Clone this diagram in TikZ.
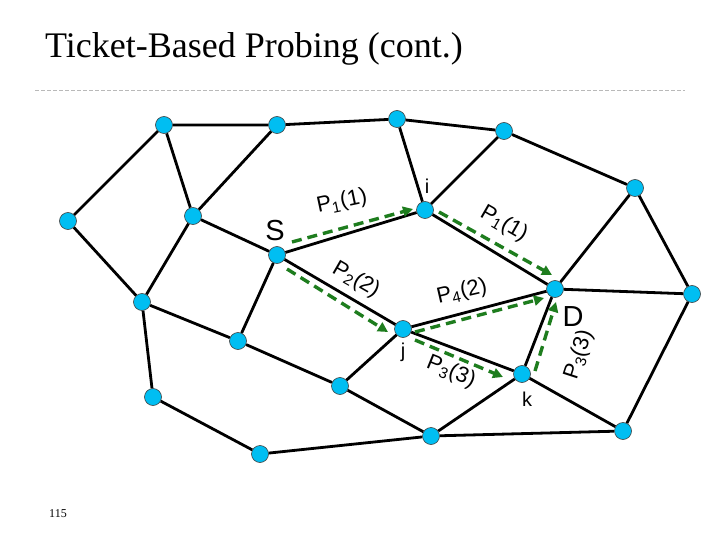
\documentclass[tikz,border=0pt]{standalone}
\usepackage{fontspec}
\setmainfont{Liberation Serif}
\newfontfamily\labelfont{Liberation Sans}
\usetikzlibrary{arrows.meta}
\definecolor{nodecyan}{RGB}{0,190,242}
\definecolor{probegreen}{RGB}{30,125,30}
\begin{document}
\begin{tikzpicture}[x=1pt,y=-1pt,
  vtx/.style={circle,fill=nodecyan,draw=black!75,line width=0.6pt,minimum size=17pt,inner sep=0pt},
  link/.style={draw=black,line width=2.8pt},
  probe/.style={draw=probegreen,line width=3.4pt,dash pattern=on 10pt off 6pt,-{Triangle[length=10pt,width=10pt]}},
  plabel/.style={font=\labelfont\fontsize{22}{26}\selectfont,inner sep=0pt},
  biglabel/.style={font=\labelfont\fontsize{29}{32}\selectfont,inner sep=0pt},
  smalllabel/.style={font=\labelfont\fontsize{20}{24}\selectfont,inner sep=0pt}]
\useasboundingbox (0,0) rectangle (720,540);
% title and separator
\node[anchor=base west,inner sep=0pt,font=\fontsize{36}{40}\selectfont] (title) at (45,58) {Ticket-Based Probing (cont.)};
\coordinate (sepL) at (35,90);
\coordinate (sepR) at (685,90);
\draw[gray!55,line width=0.8pt,dash pattern=on 4pt off 2pt] (sepL) -- (sepR);
\node[inner sep=0pt,font=\fontsize{12}{14}\selectfont] (pagenum) at (58,514) {115};
% vertices
\node[vtx] (n1) at (164,125) {};
\node[vtx] (n2) at (277,125) {};
\node[vtx] (n3) at (397,119) {};
\node[vtx] (n4) at (504,131) {};
\node[vtx] (n5) at (635,188) {};
\node[vtx] (n6) at (68,221) {};
\node[vtx] (n7) at (193,216) {};
\node[vtx] (S) at (277,255) {};
\node[vtx] (i) at (425,210) {};
\node[vtx] (F) at (142,302) {};
\node[vtx] (G) at (238,341) {};
\node[vtx] (j) at (403,329) {};
\node[vtx] (D) at (555,289) {};
\node[vtx] (n8) at (692,294) {};
\node[vtx] (H) at (153,397) {};
\node[vtx] (I) at (340,386) {};
\node[vtx] (k) at (522,374) {};
\node[vtx] (n9) at (260,454) {};
\node[vtx] (n10) at (431,436) {};
\node[vtx] (n11) at (623,431) {};
% links
\path[link]
  (n1) -- (n2) (n2) -- (n3) (n3) -- (n4) (n4) -- (n5) (n5) -- (n8)
  (n8) -- (n11) (n11) -- (n10) (n10) -- (n9) (n9) -- (H) (H) -- (F)
  (F) -- (n6) (n6) -- (n1) (n1) -- (n7) (n2) -- (n7) (n7) -- (S)
  (n7) -- (F) (F) -- (G) (G) -- (S) (G) -- (I) (I) -- (n10) (I) -- (j)
  (S) -- (i) (S) -- (j) (n3) -- (i) (n4) -- (i) (i) -- (D) (j) -- (D)
  (j) -- (k) (k) -- (D) (k) -- (n10) (k) -- (n11) (D) -- (n5) (D) -- (n8);
% probes
\draw[probe] ([shift={(15,-13)}]S.center) -- ([shift={(-12,-1)}]i.center);
\draw[probe] ([shift={(14,2)}]i.center) -- ([shift={(-3,-14)}]D.center);
\draw[probe] ([shift={(10,14)}]S.center) -- ([shift={(-15,3)}]j.center);
\draw[probe] ([shift={(12,3)}]j.center) -- ([shift={(-11,9)}]D.center);
\draw[probe] ([shift={(12,11)}]j.center) -- ([shift={(-19,3)}]k.center);
\draw[probe] ([shift={(13,-3)}]k.center) -- ([shift={(1,13)}]D.center);
% labels
\node[biglabel] (lS) at (275,231) {S};
\node[biglabel] (lD) at (573,317) {D};
\node[smalllabel] (li) at (427,186) {i};
\node[smalllabel] (lj) at (403,352) {j};
\node[smalllabel] (lk) at (527,399) {k};
\node[plabel,rotate=12] (p1a) at (342,202) {P\textsubscript{1}(1)};
\node[plabel,rotate=-30] (p1b) at (504,224) {P\textsubscript{1}(1)};
\node[plabel,rotate=-30] (p2) at (356,280) {P\textsubscript{2}(2)};
\node[plabel,rotate=13] (p4) at (462,292) {P\textsubscript{4}(2)};
\node[plabel,rotate=-22] (p3a) at (451,372) {P\textsubscript{3}(3)};
\node[plabel,rotate=72] (p3b) at (579,355) {P\textsubscript{3}(3)};
\end{tikzpicture}
\end{document}
